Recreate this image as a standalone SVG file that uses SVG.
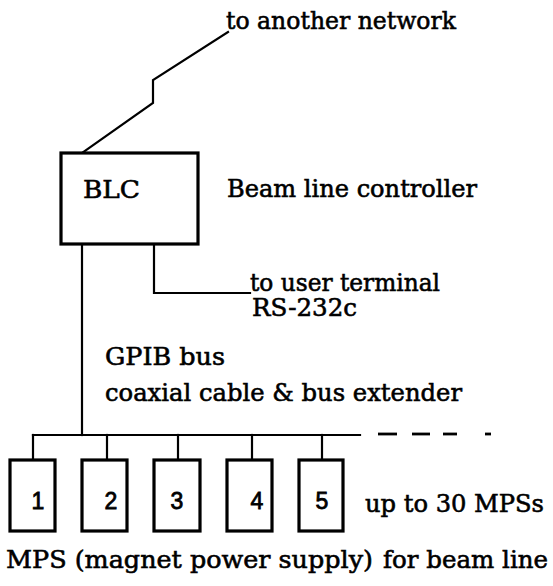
<svg xmlns="http://www.w3.org/2000/svg" width="553" height="586" viewBox="0 0 553 586">
<style>
.t{font-family:"DejaVu Serif","Liberation Serif",serif;font-size:25px;fill:#000;stroke:#000;stroke-width:0.6}
.n{font-family:"Liberation Sans",Arial,sans-serif;font-size:23px;fill:#000;stroke:#000;stroke-width:0.8;text-anchor:middle}
.ln{fill:none;stroke:#000;stroke-width:2.2;stroke-linecap:square}
.bx{fill:#fff;stroke:#000;stroke-width:3.2}
</style>
<rect width="553" height="586" fill="#fff"/>
<g id="connectors">
<polyline class="ln" stroke-width="2.8" points="228,32 153,80 153,103 82,153"/>
<line class="ln" x1="82" y1="244" x2="82" y2="435"/>
<polyline class="ln" points="154,244 154,293 250,293"/>
<line class="ln" x1="33" y1="435" x2="360" y2="435"/>
<line class="ln" x1="33" y1="435" x2="33" y2="460"/>
<line class="ln" x1="107" y1="435" x2="107" y2="460"/>
<line class="ln" x1="178" y1="435" x2="178" y2="460"/>
<line class="ln" x1="252" y1="435" x2="252" y2="460"/>
<line class="ln" x1="322" y1="435" x2="322" y2="460"/>
<g stroke="#000" stroke-width="2.8">
<line x1="378" y1="434" x2="397" y2="434"/>
<line x1="412" y1="434" x2="430" y2="434"/>
<line x1="443" y1="434" x2="457" y2="434"/>
<line x1="485" y1="434" x2="491" y2="434"/>
</g>
</g>
<g id="network-label">
<text class="t" x="226" y="29" textLength="230" lengthAdjust="spacingAndGlyphs">to another network</text>
</g>
<g id="blc">
<rect class="bx" x="61" y="153" width="137" height="91"/>
<text class="t" x="83" y="198" textLength="57" lengthAdjust="spacingAndGlyphs">BLC</text>
</g>
<g id="blc-label">
<text class="t" x="227" y="197" textLength="250" lengthAdjust="spacingAndGlyphs">Beam line controller</text>
</g>
<g id="terminal-label">
<text class="t" x="250" y="291" textLength="190" lengthAdjust="spacingAndGlyphs">to user terminal</text>
<text class="t" x="252" y="316" textLength="105" lengthAdjust="spacingAndGlyphs">RS-232c</text>
</g>
<g id="bus-label">
<text class="t" x="105" y="365" textLength="120" lengthAdjust="spacingAndGlyphs">GPIB bus</text>
<text class="t" x="105" y="401" textLength="357" lengthAdjust="spacingAndGlyphs">coaxial cable &amp; bus extender</text>
</g>
<g id="mps1"><rect class="bx" x="10" y="460" width="45" height="71"/><text class="n" x="38" y="509">1</text></g>
<g id="mps2"><rect class="bx" x="82" y="460" width="45" height="71"/><text class="n" x="111" y="509">2</text></g>
<g id="mps3"><rect class="bx" x="154" y="460" width="46" height="71"/><text class="n" x="177" y="509">3</text></g>
<g id="mps4"><rect class="bx" x="227" y="460" width="45" height="71"/><text class="n" x="257" y="509">4</text></g>
<g id="mps5"><rect class="bx" x="299" y="460" width="44" height="71"/><text class="n" x="322" y="509">5</text></g>
<g id="mps-label">
<text class="t" x="365" y="512" textLength="179" lengthAdjust="spacingAndGlyphs">up to 30 MPSs</text>
</g>
<g id="caption">
<text class="t" x="6" y="568" textLength="367" lengthAdjust="spacingAndGlyphs">MPS (magnet power supply)</text>
<text class="t" x="383" y="568" textLength="165" lengthAdjust="spacingAndGlyphs">for beam line</text>
</g>
</svg>
